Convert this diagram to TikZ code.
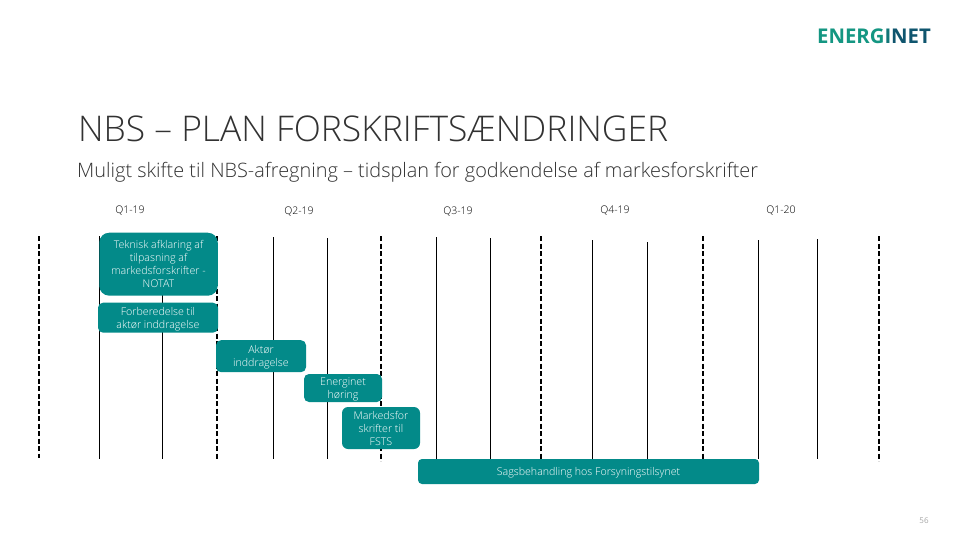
\documentclass[tikz,border=0pt]{standalone}
\usepackage{fontspec}
\setmainfont{Open Sans}
\newfontfamily\lightfont{Open Sans Light}
\usepackage{xcolor}
\usetikzlibrary{positioning}
\definecolor{gridblack}{RGB}{0, 0, 0}
\definecolor{planteal}{RGB}{3, 138, 137}
\definecolor{titlegray}{RGB}{50, 50, 50}
\definecolor{logogreen}{RGB}{20, 150, 130}
\definecolor{logoblue}{RGB}{15, 85, 110}
\tikzset{
  planbox/.style={fill=planteal, text=white, align=center, inner sep=0pt, text depth=0pt,
                  font=\lightfont\fontsize{10.65}{13}\selectfont},
  quarter/.style={text=black, font=\lightfont\fontsize{10.5}{12}\selectfont},
  monthline/.style={gridblack, line width=0.9pt},
  quarterline/.style={gridblack, line width=2pt, dash pattern=on 5pt off 2.5pt}
}
\begin{document}
\begin{tikzpicture}[x=1pt,y=-1pt]
  \useasboundingbox (0,0) rectangle (960,540);
  % title block
  \node[anchor=west, inner sep=0pt, text=titlegray, font=\lightfont\fontsize{35.4}{38}\selectfont] (title) at (78,129) {NBS – PLAN FORSKRIFTSÆNDRINGER};
  \node[anchor=west, inner sep=0pt, text=titlegray, font=\lightfont\fontsize{19.9}{23}\selectfont] (subtitle) at (77,172) {Muligt skifte til NBS-afregning – tidsplan for godkendelse af markesforskrifter};
  \node[inner sep=0pt, font=\fontsize{20.3}{21}\bfseries\selectfont] (logo) at (874,36) {\textcolor{logogreen}{ENERG}\textcolor{logogreen!50!logoblue}{I}\textcolor{logoblue}{NET}};
  % quarters
  \node[quarter] (qa) at (130,211) {Q1-19};
  \node[quarter] (qb) at (299,212) {Q2-19};
  \node[quarter] (qc) at (458,212) {Q3-19};
  \node[quarter] (qd) at (615,211) {Q4-19};
  \node[quarter] (qe) at (781,211) {Q1-20};
  % grid
  \foreach \x/\top in {99.5/236,162.3/238,273.3/237,327.3/238,436.3/237,490.3/238,592.3/240,647.3/242,758.3/240,817.3/239}
    \draw[monthline] (\x,\top) -- (\x,458.5);
  \foreach \x/\bot in {39.3/458,217/459,380.8/461,541/459,703/459,879/461}
    \draw[quarterline] (\x,236) -- (\x,\bot);
  % tasks
  \node[planbox, rounded corners=10pt, minimum width=118.5pt, minimum height=63pt] (notat) at (158.5,264.2) {Teknisk afklaring af\\tilpasning af\\markedsforskrifter -\\NOTAT};
  \node[planbox, rounded corners=5pt, minimum width=120pt, minimum height=30pt] (prep) at (158,317.7) {Forberedelse til\\aktør inddragelse};
  \node[planbox, rounded corners=5pt, minimum width=90pt, minimum height=32pt] (actor) at (261,356.2) {Aktør\\inddragelse};
  \node[planbox, rounded corners=5pt, minimum width=78pt, minimum height=28pt] (hearing) at (343,388) {Energinet\\høring};
  \node[planbox, rounded corners=6pt, minimum width=78pt, minimum height=42pt] (fsts) at (381,428) {Markedsfor\\skrifter til\\FSTS};
  \node[planbox, rounded corners=4pt, minimum width=341pt, minimum height=25pt] (review) at (588.5,471.5) {Sagsbehandling hos Forsyningstilsynet};
  \node[text=gray!70, inner sep=0pt, font=\fontsize{8}{10}\selectfont] (page) at (924,521) {56};
\end{tikzpicture}
\end{document}
